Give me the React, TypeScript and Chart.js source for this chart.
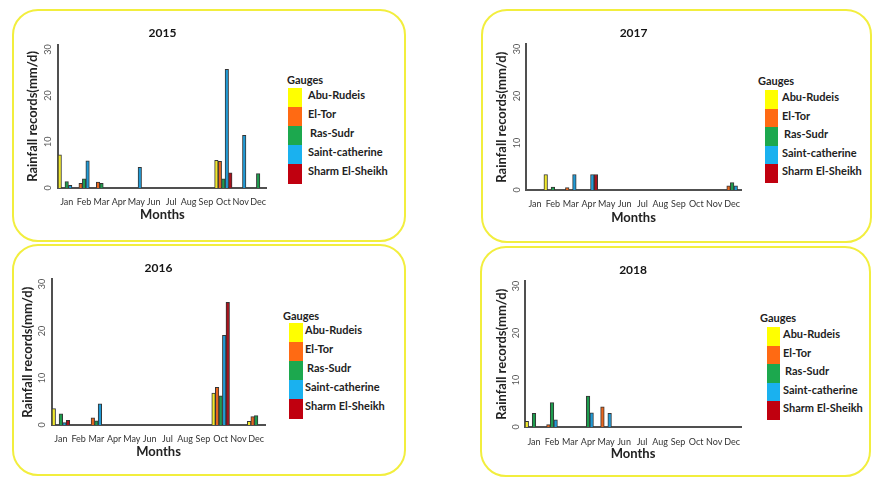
import React, { useEffect, useRef } from 'react';
import { Chart, registerables } from 'chart.js';

Chart.register(...registerables);
Chart.defaults.font.family = 'Lato, "Open Sans", sans-serif';

const MONTHS = ['Jan', 'Feb', 'Mar', 'Apr', 'May', 'Jun', 'Jul', 'Aug', 'Sep', 'Oct', 'Nov', 'Dec'];
const GAUGES = ['Abu-Rudeis', 'El-Tor', 'Ras-Sudr', 'Saint-catherine', 'Sharm El-Sheikh'];
const Y_TICKS = [0, 10, 20, 30];
const Y_TITLE = 'Rainfall records(mm/d)';
const X_TITLE = 'Months';
const LEGEND_TITLE = 'Gauges';

// 2015
const ABU_2015 = [7.2, 0, 0, 0, 0, 0, 0, 0, 0, 6.0, 0, 0];
const TOR_2015 = [0, 1.0, 1.3, 0, 0, 0, 0, 0, 0, 5.8, 0, 0];
const SUDR_2015 = [1.4, 2.0, 1.0, 0, 0, 0, 0, 0, 0, 2.0, 0, 3.1];
const CATH_2015 = [0.6, 5.9, 0, 0, 4.5, 0, 0, 0, 0, 25.7, 11.4, 0];
const SHARM_2015 = [0, 0, 0, 0, 0, 0, 0, 0, 0, 3.3, 0, 0];

// 2016
const ABU_2016 = [3.5, 0, 0, 0, 0, 0, 0, 0, 0, 6.8, 0, 0.8];
const TOR_2016 = [0, 0, 1.5, 0, 0, 0, 0, 0, 0, 8.0, 0, 1.8];
const SUDR_2016 = [2.4, 0, 0.9, 0, 0, 0, 0, 0, 0, 6.2, 0, 2.0];
const CATH_2016 = [0.5, 0, 4.5, 0, 0, 0, 0, 0, 0, 19.1, 0, 0];
const SHARM_2016 = [1.0, 0, 0, 0, 0, 0, 0, 0, 0, 26.1, 0, 0];

// 2017
const ABU_2017 = [0, 3.3, 0, 0, 0, 0, 0, 0, 0, 0, 0, 0];
const TOR_2017 = [0, 0, 0.5, 0, 0, 0, 0, 0, 0, 0, 0, 0.9];
const SUDR_2017 = [0, 0.6, 0, 0, 0, 0, 0, 0, 0, 0, 0, 1.6];
const CATH_2017 = [0, 0, 3.3, 3.3, 0, 0, 0, 0, 0, 0, 0, 0.9];
const SHARM_2017 = [0, 0, 0, 3.3, 0, 0, 0, 0, 0, 0, 0, 0];

// 2018
const ABU_2018 = [1.2, 0, 0, 0, 0, 0, 0, 0, 0, 0, 0, 0];
const TOR_2018 = [0, 0.5, 0, 0, 4.3, 0, 0, 0, 0, 0, 0, 0];
const SUDR_2018 = [2.9, 5.2, 0, 6.6, 0, 0, 0, 0, 0, 0, 0, 0];
const CATH_2018 = [0, 1.5, 0, 3.0, 2.9, 0, 0, 0, 0, 0, 0, 0];
const SHARM_2018 = [0, 0, 0, 0, 0, 0, 0, 0, 0, 0, 0, 0];

const BAR_COLORS = ['#f0e82c', '#e8661e', '#1e9c4e', '#1f9ad6', '#a8121c'];
const LEGEND_COLORS = ['#ffff00', '#ff6a13', '#1ca84e', '#1ab1ef', '#c0000f'];

type PanelCfg = {
  year: string;
  series: number[][];
  box: { l: number; t: number; w: number; h: number };
  cv: { x: number; y: number; w: number; h: number };
  yWidth: number;
  yTitlePad: number;
  yTickPad: number;
  xHeight: number;
  xTickPad: number;
  titleTop: number;
  titleBottom: number;
  lg: { gx: number; gy: number; bx: number; by: number; bw: number; bh: number; lx: number };
};

const PANELS: PanelCfg[] = [
  {
    year: '2015',
    series: [ABU_2015, TOR_2015, SUDR_2015, CATH_2015, SHARM_2015],
    box: { l: 12, t: 9, w: 394, h: 233 },
    cv: { x: 15, y: 20, w: 260, h: 203 },
    yWidth: 43, yTitlePad: 10.2, yTickPad: 4.8,
    xHeight: 35, xTickPad: 8.6, titleTop: 5.8, titleBottom: 4.6,
    lg: { gx: 287, gy: 80, bx: 288, by: 88, bw: 14, bh: 19, lx: 308 },
  },
  {
    year: '2017',
    series: [ABU_2017, TOR_2017, SUDR_2017, CATH_2017, SHARM_2017],
    box: { l: 480.5, t: 9, w: 391, h: 234 },
    cv: { x: 484, y: 20, w: 265, h: 206 },
    yWidth: 42, yTitlePad: 10.2, yTickPad: 4,
    xHeight: 36, xTickPad: 8.6, titleTop: 5.8, titleBottom: 4.2,
    lg: { gx: 758, gy: 81, bx: 765, by: 90, bw: 13, bh: 18.6, lx: 782 },
  },
  {
    year: '2016',
    series: [ABU_2016, TOR_2016, SUDR_2016, CATH_2016, SHARM_2016],
    box: { l: 12, t: 244, w: 394, h: 232 },
    cv: { x: 10, y: 255, w: 263, h: 205 },
    yWidth: 42, yTitlePad: 10.2, yTickPad: 4.8,
    xHeight: 35, xTickPad: 8.6, titleTop: 5.8, titleBottom: 4.2,
    lg: { gx: 283, gy: 316, bx: 289, by: 323, bw: 14, bh: 19, lx: 305 },
  },
  {
    year: '2018',
    series: [ABU_2018, TOR_2018, SUDR_2018, CATH_2018, SHARM_2018],
    box: { l: 480, t: 245.5, w: 391, h: 231 },
    cv: { x: 482, y: 257, w: 268, h: 205 },
    yWidth: 43, yTitlePad: 12.2, yTickPad: 3.8,
    xHeight: 35, xTickPad: 9.6, titleTop: 5.8, titleBottom: 4.2,
    lg: { gx: 760, gy: 318, bx: 767, by: 327, bw: 13, bh: 18.6, lx: 783 },
  },
];

function Panel({ cfg }: { cfg: PanelCfg }) {
  const ref = useRef<HTMLCanvasElement>(null);
  useEffect(() => {
    const chart = new Chart(ref.current as HTMLCanvasElement, {
      type: 'bar',
      data: {
        labels: MONTHS,
        datasets: GAUGES.map((g, i) => ({
          label: g,
          data: cfg.series[i],
          backgroundColor: BAR_COLORS[i],
          borderColor: '#353535',
          borderWidth: 1,
          categoryPercentage: 1,
          barPercentage: 1,
        })),
      },
      options: {
        animation: false,
        responsive: false,
        maintainAspectRatio: false,
        devicePixelRatio: 1,
        layout: { padding: { left: 0, right: 2, top: 0, bottom: 0 } },
        plugins: {
          legend: { display: false },
          tooltip: { enabled: false },
          title: {
            display: true,
            fullSize: false,
            text: cfg.year,
            color: '#151515',
            font: { size: 12, weight: 'bold' },
            padding: { top: cfg.titleTop, bottom: cfg.titleBottom },
          },
        },
        scales: {
          x: {
            grid: { display: false, drawTicks: false },
            border: { display: true, color: '#505050', width: 2 },
            ticks: {
              color: '#333',
              font: { size: 9 },
              padding: cfg.xTickPad,
              maxRotation: 0,
              minRotation: 0,
              autoSkip: false,
            },
            title: {
              display: true,
              text: X_TITLE,
              color: '#222',
              font: { size: 13, weight: 'bold' },
              padding: 0,
            },
            afterFit: (s: any) => { s.height = cfg.xHeight; },
          },
          y: {
            min: 0,
            max: 31,
            grid: { display: false, drawTicks: false },
            border: { display: true, color: '#505050', width: 2 },
            afterBuildTicks: (s: any) => { s.ticks = Y_TICKS.map((v) => ({ value: v })); },
            ticks: {
              stepSize: 10,
              minRotation: 90,
              maxRotation: 90,
              crossAlign: 'center',
              padding: cfg.yTickPad,
              color: '#555',
              font: { size: 9 },
            },
            title: {
              display: true,
              text: Y_TITLE,
              color: '#222',
              font: { size: 13, weight: 'bold' },
              padding: { top: cfg.yTitlePad, bottom: 0 },
            },
            afterFit: (s: any) => { s.width = cfg.yWidth; },
          },
        },
      } as any,
    });
    return () => chart.destroy();
  }, []);

  const lg = cfg.lg;
  return (
    <>
      <div
        style={{
          position: 'absolute', left: cfg.box.l, top: cfg.box.t, width: cfg.box.w, height: cfg.box.h,
          border: '2.5px solid #f2ee3e', borderRadius: 26, boxSizing: 'border-box',
        }}
      />
      <canvas
        ref={ref}
        width={cfg.cv.w}
        height={cfg.cv.h}
        style={{ position: 'absolute', left: cfg.cv.x, top: cfg.cv.y, width: cfg.cv.w, height: cfg.cv.h }}
      />
      <div
        style={{
          position: 'absolute', left: lg.gx, top: lg.gy - 7, height: 14, lineHeight: '14px',
          font: 'bold 11px Lato, sans-serif', color: '#222', whiteSpace: 'nowrap',
        }}
      >
        {LEGEND_TITLE}
      </div>
      {GAUGES.map((g, i) => (
        <React.Fragment key={g}>
          <div
            style={{
              position: 'absolute', left: lg.bx, top: lg.by + i * lg.bh, width: lg.bw, height: lg.bh + 0.5,
              background: LEGEND_COLORS[i],
            }}
          />
          <div
            style={{
              position: 'absolute', left: lg.lx + (i === 2 ? 2 : 0), top: lg.by + i * lg.bh, height: lg.bh,
              lineHeight: lg.bh + 'px', font: 'bold 11px Lato, sans-serif', color: '#222', whiteSpace: 'nowrap',
            }}
          >
            {g}
          </div>
        </React.Fragment>
      ))}
    </>
  );
}

export default function App() {
  return (
    <div style={{ position: 'fixed', left: 0, top: 0, width: 872, height: 478, background: '#fff', overflow: 'hidden' }}>
      {PANELS.map((p) => (
        <Panel key={p.year} cfg={p} />
      ))}
    </div>
  );
}
